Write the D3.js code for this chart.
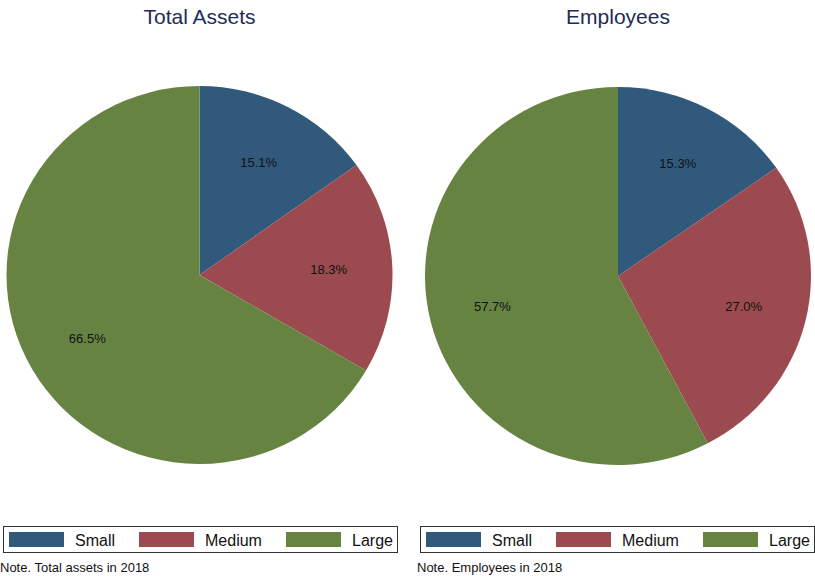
<!DOCTYPE html>
<html><head><meta charset="utf-8">
<script src="https://cdn.jsdelivr.net/npm/d3@7"></script>
<style>body{margin:0;background:#fff}svg{display:block;font-family:"Liberation Sans",Arial,sans-serif}</style>
</head><body>
<svg id="c" width="815" height="576"></svg>
<script>
const categories = ["Small", "Medium", "Large"];
const assetsValues = [15.1, 18.3, 66.5];
const employeeValues = [15.3, 27.0, 57.7];
const titles = ["Total Assets", "Employees"];
const notes = ["Note. Total assets in 2018", "Note. Employees in 2018"];
const colors = ["#31597b", "#9b4a4f", "#678342"];

const svg = d3.select("#c");
const color = d3.scaleOrdinal().domain(categories).range(colors);
const panels = [
  {cx: 199.5, cy: 275, vals: assetsValues, title: titles[0], note: notes[0], lx: 3},
  {cx: 618, cy: 276, vals: employeeValues, title: titles[1], note: notes[1], lx: 420}
];
const r = 189, sx = 193 / 189;
const pie = d3.pie().sort(null).value(d => d.v);
const arc = d3.arc().innerRadius(0).outerRadius(r);
const labelArc = d3.arc().innerRadius(r*0.67).outerRadius(r*0.67);
const keyOffsets = [6, 136, 283];

panels.forEach(p => {
  const data = categories.map((c, i) => ({c, v: p.vals[i]}));
  const g = svg.append("g").attr("transform", `translate(${p.cx},${p.cy})`);
  const arcs = pie(data);
  g.append("g").attr("transform", `scale(${sx},1)`)
    .selectAll("path").data(arcs).enter().append("path")
    .attr("d", arc).attr("fill", d => color(d.data.c));
  g.selectAll("text").data(arcs).enter().append("text")
    .attr("transform", d => { const [x, y] = labelArc.centroid(d); return `translate(${x*sx},${y})`; })
    .attr("text-anchor", "middle").attr("dy", "0.35em")
    .attr("font-size", 13).attr("fill", "#111")
    .text(d => d.data.v.toFixed(1) + "%");
  svg.append("text").attr("x", p.cx).attr("y", 24)
    .attr("text-anchor", "middle").attr("font-size", 21).attr("fill", "#1e2d56")
    .text(p.title);
  // legend
  const lg = svg.append("g").attr("transform", `translate(${p.lx},526)`);
  lg.append("rect").attr("x", 0.5).attr("y", 0.5).attr("width", 394).attr("height", 26)
    .attr("fill", "#fff").attr("stroke", "#333").attr("stroke-width", 1);
  categories.forEach((c, i) => {
    lg.append("rect").attr("x", keyOffsets[i]).attr("y", 6).attr("width", 55).attr("height", 15)
      .attr("fill", color(c));
    lg.append("text").attr("x", keyOffsets[i] + 66).attr("y", 19.5).attr("font-size", 16)
      .attr("fill", "#111").text(c);
  });
  svg.append("text").attr("x", p.lx - 3).attr("y", 572).attr("font-size", 13)
    .attr("fill", "#111").text(p.note);
});
</script>
</body></html>
